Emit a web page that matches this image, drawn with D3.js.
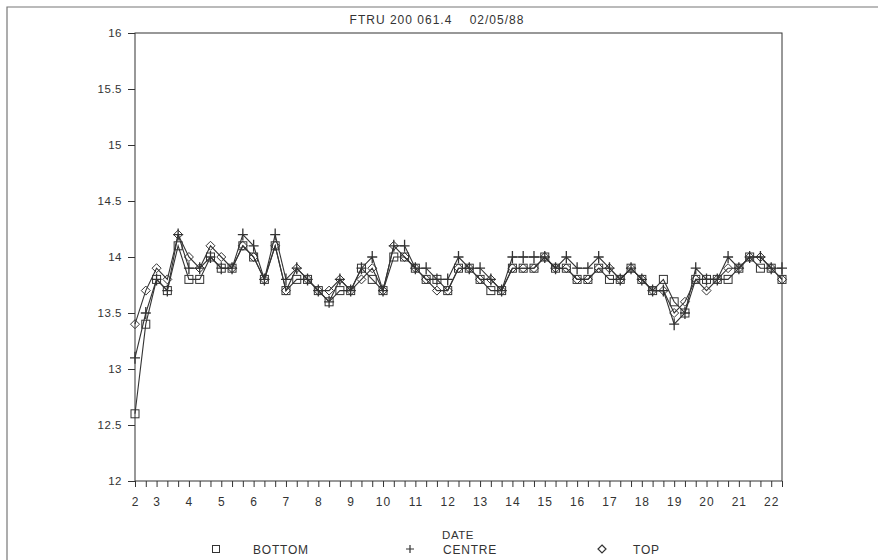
<!DOCTYPE html>
<html><head><meta charset="utf-8">
<script src="https://cdn.jsdelivr.net/npm/d3@7"></script>
<style>body{margin:0;background:#fff;} text{font-family:"Liberation Sans",Arial,sans-serif;fill:#333;}</style>
</head><body><svg id="c" width="878" height="560"></svg>
<script>
const title = "FTRU 200 061.4    02/05/88";
const seriesNames = ["BOTTOM", "CENTRE", "TOP"];
// readings (3 per day), index 0..60
const bottom = [12.6,13.4,13.8,13.7,14.1,13.8,13.8,14.0,13.9,13.9,
                14.1,14.0,13.8,14.1,13.7,13.8,13.8,13.7,13.6,13.7,
                13.7,13.9,13.8,13.7,14.0,14.0,13.9,13.8,13.8,13.7,
                13.9,13.9,13.8,13.7,13.7,13.9,13.9,13.9,14.0,13.9,
                13.9,13.8,13.8,13.9,13.8,13.8,13.9,13.8,13.7,13.8,
                13.6,13.5,13.8,13.8,13.8,13.8,13.9,14.0,13.9,13.9,13.8];
const centre = [13.1,13.5,13.8,13.7,14.2,13.9,13.9,14.0,13.9,13.9,
                14.2,14.1,13.8,14.2,13.8,13.9,13.8,13.7,13.6,13.8,
                13.7,13.9,14.0,13.7,14.1,14.1,13.9,13.9,13.8,13.8,
                14.0,13.9,13.9,13.8,13.7,14.0,14.0,14.0,14.0,13.9,
                14.0,13.9,13.9,14.0,13.9,13.8,13.9,13.8,13.7,13.7,
                13.4,13.5,13.9,13.8,13.8,14.0,13.9,14.0,14.0,13.9,13.9];
const top_ = [13.4,13.7,13.9,13.8,14.2,14.0,13.9,14.1,14.0,13.9,
              14.1,14.0,13.8,14.1,13.7,13.9,13.8,13.7,13.7,13.8,
              13.7,13.8,13.9,13.7,14.1,14.0,13.9,13.8,13.7,13.7,
              13.9,13.9,13.8,13.8,13.7,13.9,13.9,13.9,14.0,13.9,
              13.9,13.8,13.8,13.9,13.9,13.8,13.9,13.8,13.7,13.7,
              13.5,13.6,13.8,13.7,13.8,13.9,13.9,14.0,14.0,13.9,13.8];
const dayLabels = ["2","3","4","5","6","7","8","9","10","11","12","13","14","15","16","17","18","19","20","21","22"];
const dayIndex = [0,2,5,8,11,14,17,20,23,26,29,32,35,38,41,44,47,50,53,56,59];
const yTicks = [12,12.5,13,13.5,14,14.5,15,15.5,16];

const svg = d3.select("#c");
const m = {l:135, r:782, t:33, b:481};
const n = bottom.length;
const x = d3.scaleLinear().domain([0, n-1]).range([m.l, m.r]);
const y = d3.scaleLinear().domain([12, 16]).range([m.b, m.t]);
const ink = "#333";

// outer frame
svg.append("path").attr("d","M7,560 L7,7 L878,7").attr("fill","none").attr("stroke","#777").attr("stroke-width",1.2);

// plot box
svg.append("rect").attr("x",m.l).attr("y",m.t).attr("width",m.r-m.l).attr("height",m.b-m.t)
  .attr("fill","none").attr("stroke",ink).attr("stroke-width",1);

// y axis
const yAx = svg.append("g").attr("transform",`translate(${m.l},0)`)
  .call(d3.axisLeft(y).tickValues(yTicks).tickFormat(d=>String(d)).tickSize(7).tickPadding(6));
yAx.select(".domain").remove();
yAx.selectAll("line").attr("stroke",ink);
yAx.selectAll("text").style("font-size","11.5px").style("letter-spacing","0.5px").attr("fill","#333");

// x axis: minor ticks every index, labels at day starts
const xAx = svg.append("g").attr("transform",`translate(0,${m.b})`)
  .call(d3.axisBottom(x).tickValues(d3.range(n)).tickFormat("").tickSize(6));
xAx.select(".domain").remove();
xAx.selectAll("line").attr("stroke",ink);
const xl = svg.append("g").attr("transform",`translate(0,${m.b})`)
  .call(d3.axisBottom(x).tickValues(dayIndex).tickFormat((d,i)=>dayLabels[i]).tickSize(0).tickPadding(16));
xl.select(".domain").remove();
xl.selectAll("text").style("font-size","12px").style("letter-spacing","1px").attr("fill","#333");

// title & axis title
svg.append("text").attr("x",437).attr("y",24).attr("text-anchor","middle").style("font-size","12px")
  .style("letter-spacing","1px").style("white-space","pre").text(title);
svg.append("text").attr("x",458).attr("y",539).attr("text-anchor","middle").style("font-size","11.5px").style("letter-spacing","0.5px").text("DATE");

const line = d3.line().x((d,i)=>x(i)).y(d=>y(d));
const data = [bottom, centre, top_];
data.forEach(s=>{
  svg.append("path").datum(s).attr("d",line).attr("fill","none").attr("stroke",ink).attr("stroke-width",1.1);
});

function drawMarker(g, type, cx, cy){
  if(type===0){
    g.append("rect").attr("x",cx-4).attr("y",cy-4).attr("width",8).attr("height",8)
      .attr("fill","none").attr("stroke",ink).attr("stroke-width",1);
  } else if(type===1){
    g.append("path").attr("d",`M${cx-5},${cy}L${cx+5},${cy}M${cx},${cy-6}L${cx},${cy+6}`)
      .attr("stroke",ink).attr("stroke-width",1.3);
  } else {
    g.append("path").attr("d",`M${cx},${cy-4.5}L${cx+4.5},${cy}L${cx},${cy+4.5}L${cx-4.5},${cy}Z`)
      .attr("fill","none").attr("stroke",ink).attr("stroke-width",1);
  }
}
data.forEach((s,k)=>{
  const g = svg.append("g");
  s.forEach((v,i)=>drawMarker(g,k,x(i),y(v)));
});

// legend
const legX = [216, 410, 602];
const legTX = [253, 443, 633];
const ly = 549;
seriesNames.forEach((nm,k)=>{
  const g = svg.append("g");
  if(k===0){ g.append("rect").attr("x",legX[k]-3.5).attr("y",ly-3.5).attr("width",7).attr("height",7).attr("fill","none").attr("stroke",ink); }
  else if(k===1){ g.append("path").attr("d",`M${legX[k]-4},${ly}L${legX[k]+4},${ly}M${legX[k]},${ly-4}L${legX[k]},${ly+4}`).attr("stroke",ink).attr("stroke-width",1.2); }
  else { g.append("path").attr("d",`M${legX[k]},${ly-4}L${legX[k]+4},${ly}L${legX[k]},${ly+4}L${legX[k]-4},${ly}Z`).attr("fill","none").attr("stroke",ink).attr("stroke-width",1.2); }
  svg.append("text").attr("x",legTX[k]).attr("y",ly+5).style("font-size","12px").style("letter-spacing","0.8px").text(nm);
});
</script></body></html>
